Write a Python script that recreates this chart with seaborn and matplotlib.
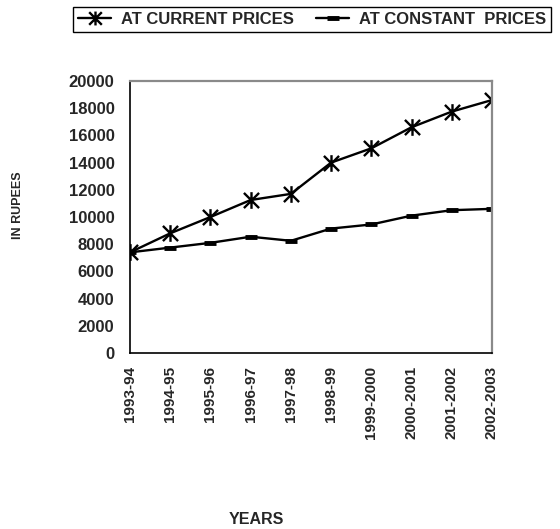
import matplotlib
matplotlib.use("Agg")
import matplotlib.pyplot as plt
from matplotlib.path import Path
from matplotlib.lines import Line2D
import seaborn as sns
import pandas as pd

years = ["1993-94", "1994-95", "1995-96", "1996-97", "1997-98", "1998-99",
         "1999-2000", "2000-2001", "2001-2002", "2002-2003"]
current_prices = [7400, 8800, 10000, 11250, 11700, 14000, 15050, 16600, 17750, 18600]
constant_prices = [7400, 7750, 8100, 8550, 8250, 9150, 9450, 10100, 10500, 10600]
yticks = list(range(0, 20001, 2000))

sns.set_style("white")
plt.rcParams['font.family'] = ['Liberation Sans', 'DejaVu Sans']
plt.rcParams['font.weight'] = 'bold'

fig = plt.figure(figsize=(5.6, 5.29), dpi=100)
ax = fig.add_axes([130/560, 1-353/529, (492-130)/560, (353-81)/529])

star = Path([(-1, -1), (1, 1), (-1, 1), (1, -1), (0, -1.1), (0, 1.1)],
            [Path.MOVETO, Path.LINETO, Path.MOVETO, Path.LINETO, Path.MOVETO, Path.LINETO])

df = pd.DataFrame({"year": years, "current": current_prices, "constant": constant_prices})
df["pos"] = range(len(years))

sns.lineplot(data=df, x="pos", y="current", ax=ax, color="black", linewidth=1.7,
             marker=star, markersize=12, markerfacecolor="none", markeredgecolor="black",
             markeredgewidth=1.7, sort=False)
sns.lineplot(data=df, x="pos", y="constant", ax=ax, color="black", linewidth=1.7,
             marker="_", markersize=9, markeredgewidth=3.5, markeredgecolor="black",
             sort=False)

ax.set_xlim(0, len(years) - 1)
ax.set_ylim(0, 20000)
ax.set_xticks(range(len(years)))
ax.set_xticklabels(years, rotation=90, fontsize=11, fontweight='bold')
ax.set_yticks(yticks)
ax.set_yticklabels([str(v) for v in yticks], fontsize=12, fontweight='bold')
ax.tick_params(axis='both', direction='inout', length=6.5, width=1, color='black')
ax.tick_params(axis='y', pad=8)
ax.tick_params(axis='x', pad=6)
ax.set_xlabel("")
ax.set_ylabel("")

for s in ['left', 'bottom']:
    ax.spines[s].set_color('black')
    ax.spines[s].set_linewidth(1.2)
for s in ['top', 'right']:
    ax.spines[s].set_color('#8a8a8a')
    ax.spines[s].set_linewidth(1.6)

fig.text(256/560, 1-520/529, "YEARS", ha='center', va='center', fontsize=11.5, fontweight='bold')
fig.text(18/560, 1-205/529, "IN RUPEES", ha='center', va='center', rotation=90,
         fontsize=9, fontweight='bold')

handles = [
    Line2D([], [], color='black', linewidth=1.7, marker=star, markersize=10,
           markerfacecolor='none', markeredgecolor='black', markeredgewidth=1.7),
    Line2D([], [], color='black', linewidth=1.7, marker='_', markersize=8,
           markeredgewidth=3.5, markeredgecolor='black'),
]
leg = fig.legend(handles, ["AT CURRENT PRICES", "AT CONSTANT  PRICES"], ncol=2,
                 loc='upper left', bbox_to_anchor=(73/560, 1-7/529),
                 frameon=True, fancybox=False, edgecolor='black', framealpha=1,
                 prop={'size': 12, 'weight': 'bold'}, handlelength=2.0,
                 handletextpad=0.6, columnspacing=1.3, borderpad=0.3,
                 borderaxespad=0)
leg.get_frame().set_linewidth(1.0)

fig.savefig("out.png", dpi=100)
